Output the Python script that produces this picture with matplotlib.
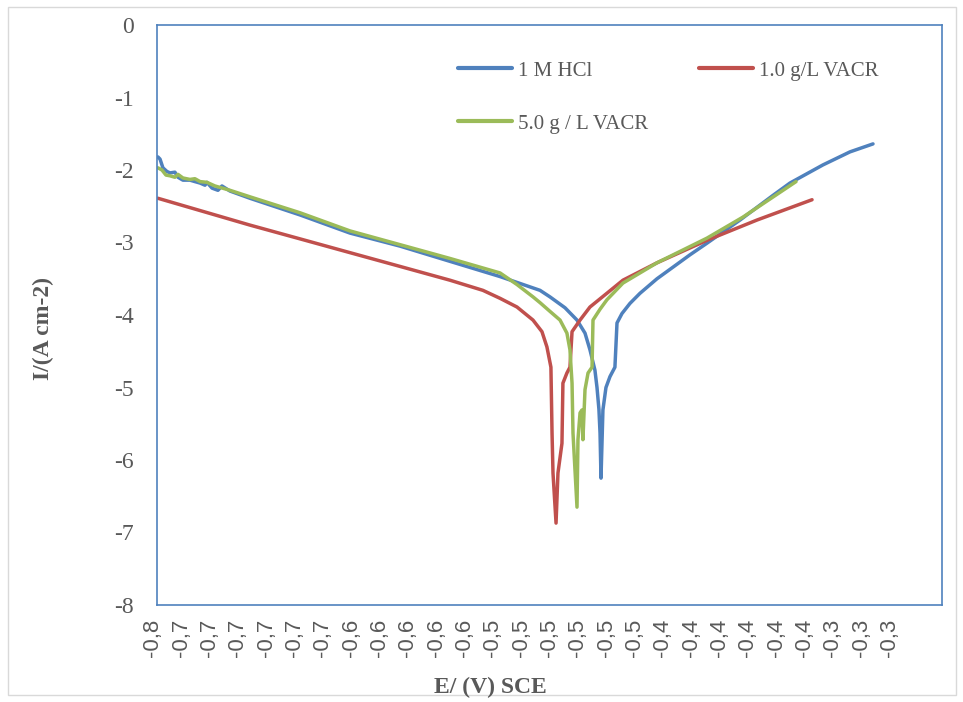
import matplotlib
matplotlib.use("Agg")
import matplotlib.pyplot as plt
import matplotlib.transforms as mtransforms
from matplotlib.patches import Rectangle

# potential E (V vs SCE) and log current
e_hcl = [-0.7594, -0.7581, -0.7563, -0.7538, -0.7519, -0.7488, -0.7469, -0.7438, -0.7394,
         -0.7363, -0.7331, -0.7300, -0.7288, -0.7256, -0.7219, -0.7194, -0.7144, -0.7019,
         -0.6706, -0.6394, -0.6081, -0.5769, -0.5456, -0.5206, -0.5144, -0.5050, -0.4975,
         -0.4925, -0.4894, -0.4863, -0.4850, -0.4838, -0.4831, -0.4825, -0.4813, -0.4794,
         -0.4769, -0.4738, -0.4725, -0.4694, -0.4644, -0.4581, -0.4475, -0.4375, -0.4269,
         -0.4163, -0.3956, -0.3750, -0.3644, -0.3438, -0.3269, -0.3125]
i_hcl = [-1.82, -1.85, -1.97, -2.02, -2.04, -2.03, -2.10, -2.14, -2.14,
         -2.16, -2.18, -2.21, -2.17, -2.25, -2.28, -2.22, -2.29, -2.39,
         -2.62, -2.87, -3.05, -3.26, -3.47, -3.66, -3.75, -3.90, -4.07,
         -4.25, -4.48, -4.76, -5.00, -5.30, -5.63, -6.25, -5.31, -5.00,
         -4.85, -4.72, -4.11, -3.98, -3.84, -3.70, -3.50, -3.34, -3.17,
         -3.01, -2.69, -2.35, -2.18, -1.93, -1.75, -1.64]

e_1g = [-0.7594, -0.7019, -0.6706, -0.6394, -0.6081, -0.5769, -0.5563, -0.5456, -0.5350,
        -0.5250, -0.5194, -0.5163, -0.5138, -0.5131, -0.5125, -0.5106, -0.5094, -0.5069,
        -0.5063, -0.5038, -0.5019, -0.5006, -0.4956, -0.4894, -0.4788, -0.4688, -0.4475,
        -0.4163, -0.3850, -0.3506]
i_1g = [-2.39, -2.76, -2.95, -3.14, -3.33, -3.52, -3.66, -3.77, -3.89,
        -4.07, -4.23, -4.44, -4.72, -5.63, -6.18, -6.87, -6.18, -5.77,
        -4.94, -4.80, -4.72, -4.23, -4.07, -3.89, -3.70, -3.52, -3.28,
        -2.97, -2.69, -2.41]

e_5g = [-0.7594, -0.7569, -0.7544, -0.7519, -0.7488, -0.7469, -0.7438, -0.7394, -0.7363,
        -0.7331, -0.7288, -0.7238, -0.7144, -0.7019, -0.6706, -0.6394, -0.6081, -0.5769,
        -0.5456, -0.5350, -0.5250, -0.5206, -0.5144, -0.5081, -0.5038, -0.5019, -0.5006,
        -0.5000, -0.4975, -0.4969, -0.4956, -0.4944, -0.4938, -0.4925, -0.4906, -0.4881,
        -0.4875, -0.4831, -0.4788, -0.4688, -0.4475, -0.4163, -0.3938, -0.3606]
i_5g = [-1.97, -2.00, -2.07, -2.08, -2.10, -2.06, -2.11, -2.13, -2.12,
        -2.16, -2.17, -2.22, -2.28, -2.37, -2.59, -2.84, -3.03, -3.22,
        -3.42, -3.58, -3.75, -3.83, -3.95, -4.07, -4.25, -4.48, -4.94,
        -5.63, -6.65, -5.72, -5.35, -5.31, -5.72, -5.03, -4.80, -4.72,
        -4.07, -3.92, -3.79, -3.56, -3.28, -2.94, -2.65, -2.16]

# category labels as printed under the axis
x_labels = ["-0,8"] + ["-0,7"] * 6 + ["-0,6"] * 5 + ["-0,5"] * 6 + ["-0,4"] * 6 + ["-0,3"] * 3
x_ticks = [-0.76 + 0.0177 * k for k in range(len(x_labels))]
y_ticks = [0, -1, -2, -3, -4, -5, -6, -7, -8]

blue = "#4F81BD"
red = "#C0504D"
green = "#9BBB59"
grey = "#595959"

fig = plt.figure(figsize=(9.63, 7.02), dpi=100)
ax = fig.add_axes([157 / 963, 1 - 605 / 702, 785 / 963, 580 / 702])

l1, = ax.plot(e_hcl, i_hcl, color=blue, lw=2.5, label="1 M HCl", solid_capstyle="round")
l2, = ax.plot(e_1g, i_1g, color=red, lw=2.5, label="1.0 g/L VACR", solid_capstyle="round")
l3, = ax.plot(e_5g, i_5g, color=green, lw=2.5, label="5.0 g / L VACR", solid_capstyle="round")

ax.set_xlim(-0.76, -0.76 + 785 * 0.000625)
ax.set_ylim(-8, 0)

ax.set_yticks(y_ticks)
ax.set_yticklabels([str(v) for v in y_ticks], fontfamily="Liberation Serif", fontsize=17, color=grey)
ax.set_xticks(x_ticks)
ax.set_xticklabels(x_labels, rotation=90, fontfamily="Liberation Sans", fontsize=16, color=grey)
ax.tick_params(axis="y", length=0, pad=17)
ax.tick_params(axis="x", length=0, pad=10)
shift = mtransforms.ScaledTranslation(-4 / 100, 0, fig.dpi_scale_trans)
for lbl in ax.get_xticklabels():
    lbl.set_transform(lbl.get_transform() + shift)

for s in ax.spines.values():
    s.set_color(blue)
    s.set_linewidth(1.2)

fig.text(490 / 963, 1 - 687 / 702, "E/ (V) SCE", ha="center", va="center",
         fontfamily="Liberation Serif", fontweight="bold", fontsize=17, color=grey)
fig.text(43 / 963, 1 - 328 / 702, "I/(A cm-2)", ha="center", va="center", rotation=90,
         fontfamily="Liberation Serif", fontweight="bold", fontsize=17, color=grey)

leg = ax.legend(handles=[l1, l3, l2], ncol=2, frameon=False, loc="upper left",
                bbox_to_anchor=(458 / 963, 1 - 61 / 702), bbox_transform=fig.transFigure,
                borderpad=0, borderaxespad=0, handlelength=2.6, handletextpad=0.3,
                labelspacing=1.6, columnspacing=2.4,
                prop={"family": "Liberation Serif", "size": 15})
for t in leg.get_texts():
    t.set_color(grey)
for h in leg.legend_handles:
    h.set_linewidth(3)

# light outer chart border
fig.patches.append(Rectangle((8 / 963, 7 / 702), 948 / 963, 688 / 702, transform=fig.transFigure,
                             fill=False, edgecolor="#D9D9D9", lw=1))

fig.savefig("out.png", dpi=100)
